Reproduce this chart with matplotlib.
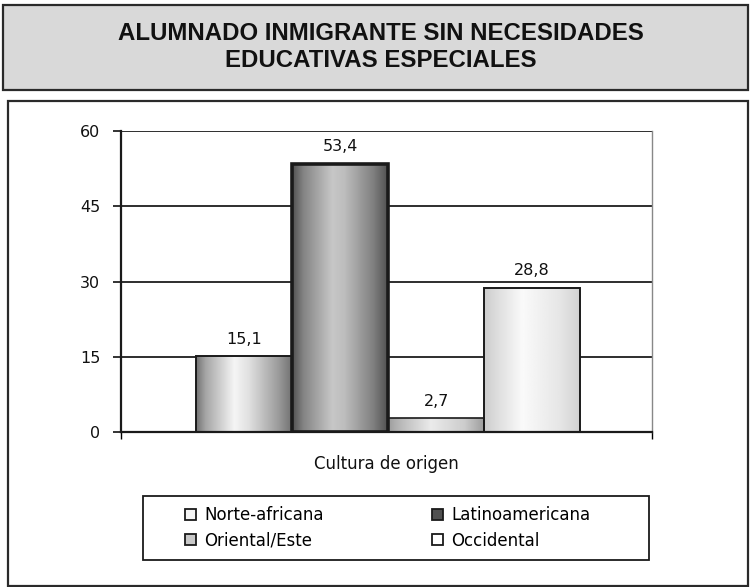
import numpy as np
import matplotlib
matplotlib.use("Agg")
import matplotlib.pyplot as plt
from matplotlib.patches import Rectangle, Patch

# data
title = "ALUMNADO INMIGRANTE SIN NECESIDADES\nEDUCATIVAS ESPECIALES"
categories = ["Norte-africana", "Latinoamericana", "Oriental/Este", "Occidental"]
values = [15.1, 53.4, 2.7, 28.8]
xlabel = "Cultura de origen"
yticks = [0, 15, 30, 45, 60]

# look of each bar: horizontal gray ramp (pos, gray) and legend swatch
ramps = [
    ([0, 0.1, 0.4, 0.55, 0.85, 1], [0.45, 0.65, 0.96, 0.88, 0.62, 0.45]),
    ([0, 0.12, 0.42, 0.55, 0.85, 1], [0.32, 0.52, 0.78, 0.74, 0.50, 0.32]),
    ([0, 0.15, 0.45, 0.80, 1], [0.62, 0.74, 0.92, 0.80, 0.62]),
    ([0, 0.12, 0.40, 0.80, 1], [0.80, 0.86, 0.98, 0.90, 0.82]),
]
swatch = ["#f4f4f4", "#505050", "#c8c8c8", "#ffffff"]
edge_w = [1.4, 2.6, 1.2, 1.4]

W, H = 751, 587
fig = plt.figure(figsize=(W / 100, H / 100), dpi=100)


def fx(px):
    return px / W


def fy(py):
    return 1 - py / H


# frames
fig.patches.append(Rectangle((fx(3), fy(90)), fx(745), 85 / H, transform=fig.transFigure,
                             facecolor="#d9d9d9", edgecolor="#2a2a2a", lw=1.6, zorder=-1))
fig.patches.append(Rectangle((fx(8), fy(586)), fx(740), 485 / H, transform=fig.transFigure,
                             facecolor="none", edgecolor="#2a2a2a", lw=1.6, zorder=-1))
fig.text(fx(381), fy(47), title, ha="center", va="center", fontsize=17.3,
         fontweight="bold", family="Liberation Sans", linespacing=1.2, color="#111111")

ax = fig.add_axes([fx(121), fy(432), fx(531), 301 / H])

w = 96 / 531
xs = [(i - 1.5) * w + 0.003 for i in range(len(values))]
bars = ax.bar(xs, values, width=w, facecolor="none", edgecolor="#1a1a1a", zorder=3)
for b, lw in zip(bars, edge_w):
    b.set_linewidth(lw)

for b, (pos, gray) in zip(bars, ramps):
    x0, y0, bw, bh = b.get_x(), b.get_y(), b.get_width(), b.get_height()
    t = np.linspace(0, 1, 200)
    img = np.tile(np.interp(t, pos, gray), (2, 1))
    im = ax.imshow(img, cmap="gray", vmin=0, vmax=1, extent=[x0, x0 + bw, y0, y0 + bh],
                   aspect="auto", interpolation="bilinear", zorder=2)
    im.set_clip_path(b)

ax.bar_label(bars, labels=[f"{v:.1f}".replace(".", ",") for v in values],
             padding=7, fontsize=11.5, color="#111111")

ax.set_xlim(-0.5, 0.5)
ax.set_ylim(0, 60)
ax.set_yticks(yticks)
ax.set_xticks([-0.5, 0.5])
ax.set_xticklabels(["", ""])
ax.tick_params(axis="y", direction="out", length=6, width=1.2, pad=9, labelsize=11.5,
               colors="#111111")
ax.tick_params(axis="x", direction="out", length=5, width=1.0)
ax.set_xlabel(xlabel, fontsize=12, labelpad=8, color="#111111")
ax.set_axisbelow(True)
ax.yaxis.grid(True, color="#1e1e1e", lw=1.3)
ax.spines["top"].set_visible(False)
ax.spines["left"].set_linewidth(1.6)
ax.spines["left"].set_color("#1a1a1a")
ax.spines["bottom"].set_linewidth(1.6)
ax.spines["bottom"].set_color("#1a1a1a")
ax.spines["right"].set_color("#888888")
ax.spines["right"].set_linewidth(1.0)

# legend
fig.patches.append(Rectangle((fx(143), fy(560)), fx(506), 64 / H, transform=fig.transFigure,
                             facecolor="none", edgecolor="#1a1a1a", lw=1.3, zorder=-1))
handles = [Patch(facecolor=c, edgecolor="#1a1a1a", lw=1.3) for c in swatch]
order = [0, 2, 1, 3]
fig.legend([handles[i] for i in order], [categories[i] for i in order], ncol=2,
           loc="upper left", bbox_to_anchor=(fx(185), fy(506)), frameon=False,
           borderaxespad=0, borderpad=0, fontsize=12, handlelength=0.65,
           handleheight=0.65, handletextpad=0.5, columnspacing=6.5, labelspacing=0.45)

fig.savefig("out.png", dpi=100)
